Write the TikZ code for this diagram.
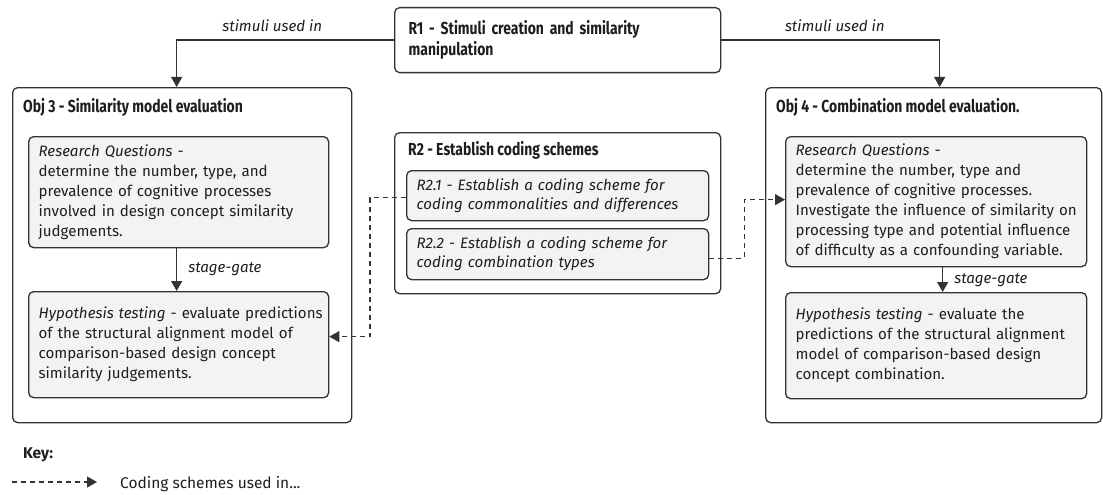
\documentclass[tikz,border=0pt]{standalone}
\usepackage{fontspec}
\setmainfont{Fira Sans}
\newfontfamily\condfont[FakeStretch=0.8]{Fira Sans}
\usetikzlibrary{arrows.meta}
\definecolor{linec}{HTML}{333333}
\definecolor{boxfill}{HTML}{F3F3F3}
\definecolor{txtc}{HTML}{1E1E1E}
\newcommand{\keepline}[1]{\mbox{#1}}
\hfuzz=50pt
\tikzset{
  outerbox/.style={draw=linec, line width=1.3pt, rounded corners=5pt, fill=white, anchor=north west, inner sep=0pt},
  innerbox/.style={draw=linec, line width=1.3pt, rounded corners=5pt, fill=boxfill, anchor=north west,
    inner xsep=10pt, inner ysep=0pt, align=left, text=txtc, font=\fontsize{15.1}{20}\selectfont},
  titletext/.style={anchor=base west, text=txtc, inner sep=0pt, font=\condfont\bfseries\fontsize{17.4}{21}\selectfont},
  labtext/.style={text=txtc, inner sep=0pt, font=\itshape\fontsize{15.1}{20}\selectfont},
  conn/.style={draw=linec, line width=1.3pt, -{Triangle[width=11pt,length=10pt]}},
  dconn/.style={draw=linec, line width=1.3pt, dash pattern=on 5pt off 4pt, -{Triangle[width=11pt,length=10pt]}}
}
\begin{document}
\begin{tikzpicture}[x=1pt,y=-1pt]
\useasboundingbox (0,0) rectangle (1103,495);
% outer boxes
\node (r1) [outerbox, inner xsep=14pt, text width=298pt, minimum height=65pt, align=left, text=txtc,
  font=\condfont\bfseries\fontsize{17.4}{21}\selectfont] at (394,7) {\keepline{R1 - Stimuli creation and similarity}\\manipulation};
\node (obj3) [outerbox, minimum width=339pt, minimum height=335pt] at (12,87) {};
\node (obj4) [outerbox, minimum width=336pt, minimum height=335pt] at (765,87) {};
\node (r2) [outerbox, minimum width=326pt, minimum height=161pt] at (394,132) {};
% titles
\node (obj3t) [titletext] at (23,112) {Obj 3 - Similarity model evaluation};
\node (obj4t) [titletext] at (776,112) {Obj 4 - Combination model evaluation.};
\node (r2t) [titletext] at (408,155) {R2 - Establish coding schemes};
% inner boxes
\node (rq3) [innerbox, text width=280pt, minimum height=111pt] at (28,136)
  {\textit{Research Questions -}\\\keepline{determine the number, type, and}\\\keepline{prevalence of cognitive processes}\\\keepline{involved in design concept similarity}\\judgements.};
\node (hyp3) [innerbox, text width=280pt, minimum height=106pt] at (28,291)
  {\keepline{\textit{Hypothesis testing} - evaluate predictions}\\\keepline{of the structural alignment model of}\\\keepline{comparison-based design concept}\\\keepline{similarity judgements.}};
\node (r21) [innerbox, text width=282pt, minimum height=50pt, font=\itshape\fontsize{15.1}{19}\selectfont] at (406,170)
  {\keepline{R2.1 - Establish a coding scheme for}\\\keepline{coding commonalities and differences}};
\node (r22) [innerbox, text width=282pt, minimum height=51pt, font=\itshape\fontsize{15.1}{19}\selectfont] at (406,228)
  {\keepline{R2.2 - Establish a coding scheme for}\\\keepline{coding combination types}};
\node (rq4) [innerbox, text width=281pt, minimum height=130pt] at (785,136)
  {\textit{Research Questions -}\\\keepline{determine the number, type and}\\\keepline{prevalence of cognitive processes.}\\\keepline{Investigate the influence of similarity on}\\\keepline{processing type and potential influence}\\\keepline{of difficulty as a confounding variable.}};
\node (hyp4) [innerbox, text width=281pt, minimum height=106pt] at (785,292)
  {\keepline{\textit{Hypothesis testing} - evaluate the}\\\keepline{predictions of the structural alignment}\\\keepline{model of comparison-based design}\\\keepline{concept combination.}};
% connectors
\draw[conn] (r1.west) -| node[labtext, pos=0.28, above=8pt] (lab1) {stimuli used in} ([xshift=-2pt]rq3.north |- obj3.north);
\draw[conn] (r1.east) -| node[labtext, pos=0.26, above=8pt] (lab2) {stimuli used in} ([xshift=3.5pt]rq4.north |- obj4.north);
\draw[conn] ([xshift=-2pt]rq3.south) -- node[labtext, right=11pt] (sg3) {stage-gate} ([xshift=-2pt]hyp3.north);
\draw[conn] ([xshift=6.5pt]rq4.south) -- node[labtext, right=11pt, yshift=-1pt] (sg4) {stage-gate} ([xshift=6.5pt]hyp4.north);
\draw[dconn] ([yshift=-2pt]r21.west) -- ++(-36,0) |- ([yshift=8pt]hyp3.east);
\draw[dconn] ([yshift=-4pt]r22.east) -- ++(35,0) |- ([yshift=2pt]rq4.west);
% key
\node (key) [anchor=base west, text=txtc, inner sep=0pt, font=\bfseries\fontsize{15.5}{20}\selectfont] at (23,458) {Key:};
\coordinate (k1) at (12,482);
\coordinate (k2) at (97,482);
\draw[dconn] (k1) -- (k2);
\node (keytxt) [anchor=base west, text=txtc, inner sep=0pt, font=\fontsize{15.5}{20}\selectfont] at (120,488) {Coding schemes used in...};
\end{tikzpicture}
\end{document}
